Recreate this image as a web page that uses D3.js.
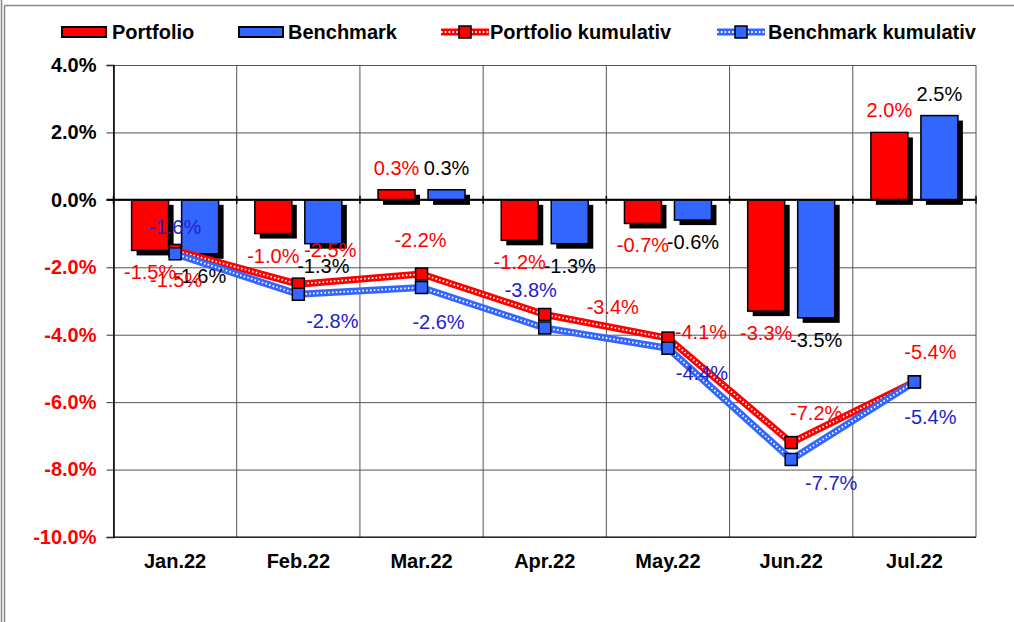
<!DOCTYPE html>
<meta charset="utf-8">
<script src="https://d3js.org/d3.v7.min.js"></script>
<style>
body { margin: 0; background: #fff; }
text { font-family: "Liberation Sans", Arial, sans-serif; }
</style>
<div id="my_dataviz"></div>
<script>
// data
var months = ["Jan.22", "Feb.22", "Mar.22", "Apr.22", "May.22", "Jun.22", "Jul.22"];
var portfolio = [-1.5, -1.0, 0.3, -1.2, -0.7, -3.3, 2.0];
var benchmark = [-1.6, -1.3, 0.3, -1.3, -0.6, -3.5, 2.5];
var portfolioCum = [-1.5, -2.5, -2.2, -3.4, -4.1, -7.2, -5.4];
var benchmarkCum = [-1.6, -2.8, -2.6, -3.8, -4.4, -7.7, -5.4];
var yTicks = [4, 2, 0, -2, -4, -6, -8, -10];

// hand placed label offsets for the cumulative lines (px from the point)
var portCumOff = [[1, 30], [32, -34], [-1, -34], [68, -7], [33, -6], [25, -30], [16, -30]];
var benchCumOff = [[0, -27], [34, 27], [17, 34], [-14, -38], [34, 25], [40, 24], [16, 35]];

var red = "#ff0000", blue = "#3366ff", darkBlue = "#2222cc";
var W = 1014, H = 622;
var pLeft = 113.5, pRight = 976, pTop = 65, pBottom = 537;
var fs = "20px";

function pct(v) { return v.toFixed(1) + "%"; }

var svg = d3.select("#my_dataviz").append("svg")
    .attr("width", W).attr("height", H);

// outer frame
svg.append("line").attr("x1", 1.5).attr("x2", 1.5).attr("y1", 0).attr("y2", H).attr("stroke", "#888").attr("stroke-width", 1.5);
svg.append("line").attr("x1", 4.5).attr("x2", 4.5).attr("y1", 5.5).attr("y2", H).attr("stroke", "#888").attr("stroke-width", 1.5);
svg.append("line").attr("x1", 4.5).attr("x2", W).attr("y1", 5.5).attr("y2", 5.5).attr("stroke", "#888").attr("stroke-width", 1.5);

// scales
var x = d3.scaleBand().domain(months).range([pLeft, pRight]);
var xs = d3.scaleBand().domain(["p", "b"]).range([0, x.bandwidth()])
    .paddingInner(0.26).paddingOuter(0.362);
var y = d3.scaleLinear().domain([-10, 4]).range([pBottom, pTop]);

// horizontal gridlines
svg.append("g")
    .attr("transform", "translate(" + pLeft + ",0)")
    .call(d3.axisLeft(y).tickValues(yTicks).tickSize(-(pRight - pLeft)).tickFormat(""))
    .call(function(g) {
      g.select(".domain").remove();
      g.selectAll("line").attr("stroke", "#555");
    });

// vertical gridlines at category boundaries
svg.append("g").selectAll("line")
    .data(d3.range(months.length + 1))
    .enter().append("line")
      .attr("x1", function(i) { return pLeft + i * x.step(); })
      .attr("x2", function(i) { return pLeft + i * x.step(); })
      .attr("y1", pTop).attr("y2", pBottom)
      .attr("stroke", "#555");

// y axis
svg.append("g")
    .attr("transform", "translate(" + pLeft + ",0)")
    .call(d3.axisLeft(y).tickValues(yTicks).tickSize(7).tickPadding(10).tickFormat(pct))
    .call(function(g) {
      g.select(".domain").attr("stroke", "#000").attr("stroke-width", 1.5);
      g.selectAll("line").attr("stroke", "#333");
      g.selectAll("text")
        .style("font-size", fs).style("font-weight", "bold")
        .attr("fill", function(d) { return d < 0 ? red : "#000"; });
    });

// bottom line
svg.append("line").attr("x1", pLeft).attr("x2", pRight).attr("y1", pBottom).attr("y2", pBottom).attr("stroke", "#000").attr("stroke-width", 1.2);

// x labels
svg.append("g")
    .attr("transform", "translate(0," + pBottom + ")")
    .call(d3.axisBottom(x).tickSize(0).tickPadding(17))
    .call(function(g) {
      g.select(".domain").remove();
      g.selectAll("text").style("font-size", fs).style("font-weight", "bold").attr("fill", "#000");
    });

// bars
function drawBars(vals, key, color) {
  var g = svg.append("g");
  var bx = function(d, i) { return x(months[i]) + xs(key); };
  var by = function(d) { return Math.min(y(d), y(0)); };
  var bh = function(d) { return Math.abs(y(d) - y(0)); };
  g.selectAll(".shadow").data(vals).enter().append("rect")
      .attr("x", function(d, i) { return bx(d, i) + 5; })
      .attr("y", function(d) { return by(d) + 5; })
      .attr("width", xs.bandwidth()).attr("height", bh)
      .attr("fill", "#000");
  g.selectAll(".bar").data(vals).enter().append("rect")
      .attr("x", bx).attr("y", by)
      .attr("width", xs.bandwidth()).attr("height", bh)
      .attr("fill", color).attr("stroke", "#000").attr("stroke-width", 1.5);
}
drawBars(portfolio, "p", red);
drawBars(benchmark, "b", blue);

// zero line with small category ticks
svg.append("line").attr("x1", pLeft - 7).attr("x2", pRight).attr("y1", y(0)).attr("y2", y(0)).attr("stroke", "#000").attr("stroke-width", 2);
svg.append("g").selectAll("line")
    .data(d3.range(months.length + 1))
    .enter().append("line")
      .attr("x1", function(i) { return pLeft + i * x.step(); })
      .attr("x2", function(i) { return pLeft + i * x.step(); })
      .attr("y1", y(0) - 4).attr("y2", y(0) + 4)
      .attr("stroke", "#000").attr("stroke-width", 1.5);

// bar labels
function barLabels(vals, key, color) {
  svg.append("g").selectAll("text").data(vals).enter().append("text")
      .attr("x", function(d, i) { return x(months[i]) + xs(key) + xs.bandwidth() / 2; })
      .attr("y", function(d) { return y(d) + (d < 0 ? 22 : -22); })
      .attr("dy", "0.35em")
      .attr("text-anchor", "middle")
      .style("font-size", fs)
      .attr("fill", color)
      .text(pct);
}

// cumulative lines
var cx = function(d, i) { return x(months[i]) + x.bandwidth() / 2; };
function cumLine(vals, color) {
  var line = d3.line().x(cx).y(function(d) { return y(d); });
  var g = svg.append("g");
  g.append("path").datum(vals).attr("d", line)
      .attr("fill", "none").attr("stroke", color).attr("stroke-width", 7).attr("stroke-linejoin", "round");
  g.append("path").datum(vals).attr("d", line)
      .attr("fill", "none").attr("stroke", "#fff").attr("stroke-width", 1.8).attr("stroke-dasharray", "1.6,2.2");
  g.selectAll("rect").data(vals).enter().append("rect")
      .attr("x", function(d, i) { return cx(d, i) - 6; })
      .attr("y", function(d) { return y(d) - 6; })
      .attr("width", 12).attr("height", 12)
      .attr("fill", color).attr("stroke", "#000").attr("stroke-width", 1.5);
}
cumLine(portfolioCum, red);
cumLine(benchmarkCum, blue);

barLabels(portfolio, "p", red);
barLabels(benchmark, "b", "#000");

function cumLabels(vals, off, color) {
  svg.append("g").selectAll("text").data(vals).enter().append("text")
      .attr("x", function(d, i) { return cx(d, i) + off[i][0]; })
      .attr("y", function(d, i) { return y(d) + off[i][1]; })
      .attr("dy", "0.35em")
      .attr("text-anchor", "middle")
      .style("font-size", fs)
      .attr("fill", color)
      .text(pct);
}
cumLabels(portfolioCum, portCumOff, red);
cumLabels(benchmarkCum, benchCumOff, darkBlue);

// legend
var legend = svg.append("g");
var ly = 32;
function legendText(tx, label) {
  legend.append("text").attr("x", tx).attr("y", ly).attr("dy", "0.35em")
      .style("font-size", fs).style("font-weight", "bold").attr("fill", "#000").text(label);
}
legend.append("rect").attr("x", 62).attr("y", ly - 5).attr("width", 44).attr("height", 10)
    .attr("fill", red).attr("stroke", "#000").attr("stroke-width", 2);
legendText(112, "Portfolio");
legend.append("rect").attr("x", 239).attr("y", ly - 5).attr("width", 44).attr("height", 10)
    .attr("fill", blue).attr("stroke", "#000").attr("stroke-width", 2);
legendText(288, "Benchmark");
function legendLine(x0, color) {
  legend.append("line").attr("x1", x0).attr("x2", x0 + 48).attr("y1", ly).attr("y2", ly)
      .attr("stroke", color).attr("stroke-width", 7);
  legend.append("line").attr("x1", x0).attr("x2", x0 + 48).attr("y1", ly).attr("y2", ly)
      .attr("stroke", "#fff").attr("stroke-width", 1.8).attr("stroke-dasharray", "1.6,2.2");
  legend.append("rect").attr("x", x0 + 18).attr("y", ly - 6).attr("width", 12).attr("height", 12)
      .attr("fill", color).attr("stroke", "#000").attr("stroke-width", 1.5);
}
legendLine(441, red);
legendText(490, "Portfolio kumulativ");
legendLine(717, blue);
legendText(768, "Benchmark kumulativ");
</script>
